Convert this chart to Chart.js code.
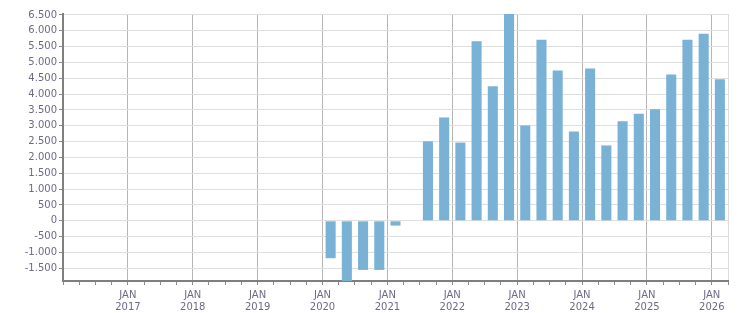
<!DOCTYPE html>
<html>
<head>
<meta charset="utf-8">
<script src="https://cdn.jsdelivr.net/npm/chart.js@4"></script>
<style>
  html, body { margin: 0; padding: 0; background: #fff; }
  #wrap { width: 751px; height: 313px; }
</style>
</head>
<body>
<div id="wrap"><canvas id="chart"></canvas></div>
<script>
// quarterly values, Q1 2020 .. Q1 2026
const quarters = ['2020-Q1','2020-Q2','2020-Q3','2020-Q4','2021-Q1','2021-Q2','2021-Q3','2021-Q4',
  '2022-Q1','2022-Q2','2022-Q3','2022-Q4','2023-Q1','2023-Q2','2023-Q3','2023-Q4',
  '2024-Q1','2024-Q2','2024-Q3','2024-Q4','2025-Q1','2025-Q2','2025-Q3','2025-Q4','2026-Q1'];
const values = [-1180, -1900, -1550, -1550, -150, null, 2510, 3260,
  2470, 5670, 4250, 6530, 3010, 5720, 4750, 2820,
  4810, 2380, 3140, 3380, 3520, 4620, 5720, 5910, 4470];
const yearLabels = [2017, 2018, 2019, 2020, 2021, 2022, 2023, 2024, 2025, 2026];
const yTickValues = [-1500, -1000, -500, 0, 500, 1000, 1500, 2000, 2500, 3000,
  3500, 4000, 4500, 5000, 5500, 6000, 6500];
const firstYear = 2016;
const lastQuarter = 41; // axis ends one quarter after JAN 2026

const points = quarters.map((q, i) => {
  const [yr, qq] = q.split('-Q');
  return { x: (Number(yr) - firstYear) * 4 + (Number(qq) - 1) + 0.5, y: values[i] };
});

const labelColor = '#6e6a85';
const fmt = v => v.toLocaleString('de-DE');

new Chart(document.getElementById('chart'), {
  type: 'bar',
  data: {
    datasets: [{
      data: points,
      backgroundColor: '#79b2d4',
      barPercentage: 0.62,
      categoryPercentage: 1
    }]
  },
  options: {
    responsive: true,
    maintainAspectRatio: false,
    animation: false,
    layout: { padding: { top: 14, right: 23, left: 0, bottom: 0 } },
    plugins: { legend: { display: false }, tooltip: { enabled: false } },
    scales: {
      x: {
        type: 'linear',
        min: 0,
        max: lastQuarter,
        offset: false,
        afterFit: s => { s.height = 32; },
        ticks: {
          stepSize: 1,
          autoSkip: false,
          maxRotation: 0,
          padding: 4,
          color: labelColor,
          font: { family: 'DejaVu Sans', size: 10 },
          callback: v => {
            const yr = firstYear + v / 4;
            return (v % 4 === 0 && yearLabels.includes(yr)) ? ['JAN', String(yr)] : '';
          }
        },
        grid: {
          offset: false,
          color: c => {
            const v = c.tick ? c.tick.value : 0;
            if (v === lastQuarter) return '#dddddd';
            if (v > 0 && v % 4 === 0) return '#b5b5b5';
            return 'rgba(0,0,0,0)';
          },
          tickColor: '#8a8a8a',
          tickLength: 4,
          lineWidth: 1
        },
        border: { color: '#7f7f7f', width: 2 }
      },
      y: {
        min: -1900,
        max: 6530,
        afterFit: s => { s.width = 63; },
        afterBuildTicks: s => { s.ticks = yTickValues.map(v => ({ value: v })); },
        ticks: {
          padding: 2,
          color: labelColor,
          font: { family: 'DejaVu Sans', size: 10 },
          callback: v => fmt(v)
        },
        grid: {
          color: '#dedede',
          tickColor: '#8a8a8a',
          tickLength: 4,
          lineWidth: 1
        },
        border: { color: '#7f7f7f', width: 2 }
      }
    }
  }
});
</script>
</body>
</html>
